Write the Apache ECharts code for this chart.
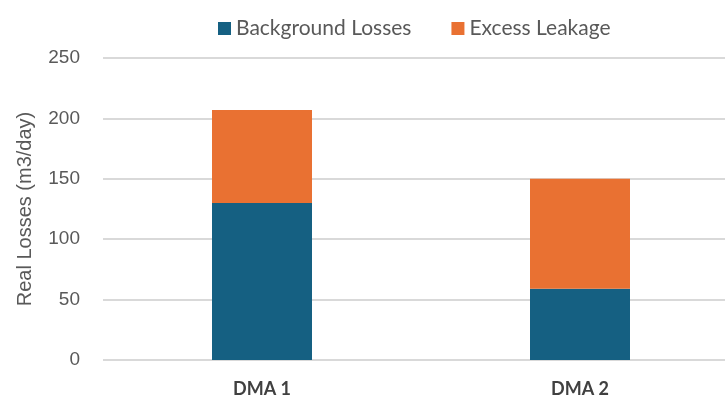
<!DOCTYPE html>
<html>
<head>
<meta charset="utf-8">
<script src="https://cdn.jsdelivr.net/npm/echarts@6/dist/echarts.min.js"></script>
<style>
  html, body { margin: 0; padding: 0; background: #fff; }
  #chart { width: 725px; height: 400px; }
</style>
</head>
<body>
<div id="chart"></div>
<script>
// data
var categories = ['DMA 1', 'DMA 2'];
var backgroundLosses = [130, 59];
var excessLeakage = [77, 91];
var yTicks = [0, 50, 100, 150, 200, 250];

var chart = echarts.init(document.getElementById('chart'));

chart.setOption({
  animation: false,
  color: ['#156082', '#E97132'],
  legend: {
    top: 13,
    left: 213,
    itemWidth: 13,
    itemHeight: 13,
    itemGap: 40,
    icon: 'rect',
    textStyle: { fontFamily: 'Lato, sans-serif', fontSize: 21, color: '#595959' },
    data: ['Background Losses', 'Excess Leakage']
  },
  // plot area runs past the right edge, as in the cropped reference
  grid: { left: 103, width: 636, top: 58, bottom: 40, outerBoundsMode: 'none' },
  xAxis: {
    type: 'category',
    data: categories,
    axisLine: { show: false },
    axisTick: { show: false },
    axisLabel: {
      margin: 20,
      fontFamily: 'Lato, sans-serif',
      fontWeight: 'bold',
      fontSize: 18,
      color: '#404040'
    }
  },
  yAxis: {
    type: 'value',
    min: yTicks[0],
    max: yTicks[yTicks.length - 1],
    interval: yTicks[1] - yTicks[0],
    name: 'Real Losses (m3/day)',
    nameLocation: 'middle',
    nameGap: 68,
    nameTextStyle: { fontFamily: 'Liberation Sans, sans-serif', fontSize: 20, color: '#595959' },
    axisLine: { show: false },
    axisTick: { show: false },
    axisLabel: { margin: 23, fontFamily: 'Liberation Sans, sans-serif', fontSize: 19, color: '#595959' },
    splitLine: { lineStyle: { color: '#d9d9d9', width: 2 } }
  },
  series: [
    {
      name: 'Background Losses',
      type: 'bar',
      stack: 'total',
      barWidth: 100,
      data: backgroundLosses
    },
    {
      name: 'Excess Leakage',
      type: 'bar',
      stack: 'total',
      barWidth: 100,
      data: excessLeakage
    }
  ]
});
</script>
</body>
</html>
